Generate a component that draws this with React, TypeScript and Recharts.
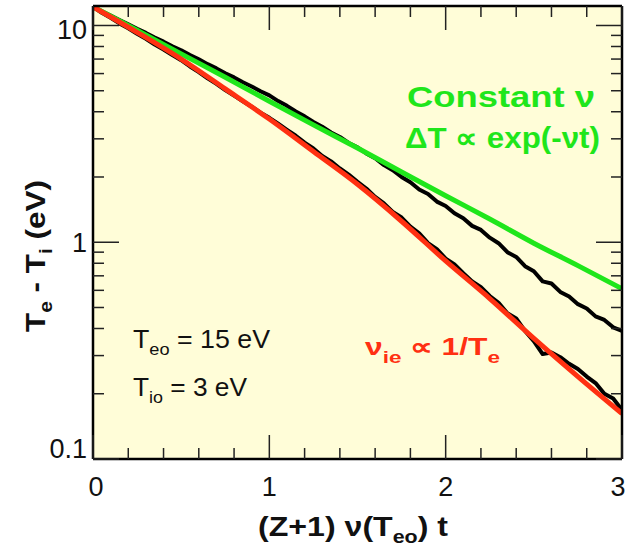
import { LineChart, Line, XAxis, YAxis, CartesianGrid } from "recharts";

// scaled time (Z+1) nu(Teo) t
const modelT = [0, 0.25, 0.5, 0.75, 1, 1.25, 1.5, 1.75, 2, 2.25, 2.5, 2.75, 3];
const constantNu = [12.2, 9.5, 7.4, 5.77, 4.47, 3.48, 2.72, 2.11, 1.64, 1.28, 0.99, 0.78, 0.61];
const nuInverseTe = [12.2, 9.3, 7.0, 5.1, 3.7, 2.62, 1.85, 1.25, 0.82, 0.55, 0.36, 0.24, 0.162];

// measured traces, sampled every 0.05
const sampleT = Array.from({ length: 61 }, (_, i) => +(i * 0.05).toFixed(2));
const measuredUpper = [
  12.2, 11.64, 11.11, 10.6, 10.13, 9.66, 9.24, 8.8, 8.42, 8.01, 7.68,
  7.3, 6.98, 6.63, 6.34, 6.02, 5.76, 5.47, 5.23, 4.97, 4.76,
  4.48, 4.26, 4.01, 3.81, 3.59, 3.41, 3.21, 3.06, 2.87, 2.74,
  2.57, 2.44, 2.27, 2.15, 2.0, 1.89, 1.75, 1.67, 1.54, 1.47,
  1.36, 1.29, 1.19, 1.14, 1.05, 0.99, 0.9, 0.855, 0.775, 0.735,
  0.66, 0.645, 0.59, 0.562, 0.518, 0.495, 0.455, 0.438, 0.405, 0.39,
];
const measuredLower = [
  12.2, 11.45, 10.85, 10.22, 9.7, 9.15, 8.68, 8.16, 7.74, 7.3, 6.92,
  6.47, 6.1, 5.7, 5.38, 5.04, 4.75, 4.47, 4.22, 3.96, 3.75,
  3.52, 3.3, 3.1, 2.88, 2.71, 2.5, 2.36, 2.19, 2.05, 1.9,
  1.77, 1.62, 1.51, 1.38, 1.3, 1.18, 1.1, 0.99, 0.93, 0.84,
  0.79, 0.72, 0.66, 0.62, 0.565, 0.525, 0.47, 0.445, 0.39, 0.35,
  0.305, 0.31, 0.295, 0.275, 0.26, 0.24, 0.224, 0.2, 0.19, 0.168,
];

const xTicks = [0, 0.2, 0.4, 0.6, 0.8, 1, 1.2, 1.4, 1.6, 1.8, 2, 2.2, 2.4, 2.6, 2.8, 3];
const yTicks = [
  0.1, 0.2, 0.3, 0.4, 0.5, 0.6, 0.7, 0.8, 0.9,
  1, 2, 3, 4, 5, 6, 7, 8, 9, 10,
];
const xLabels = [0, 1, 2, 3];
const yLabels = [0.1, 1, 10];

const toPoints = (xs: number[], ys: number[]) => xs.map((x, i) => ({ x, y: ys[i] }));

const FONT = '"Liberation Sans", Arial, Helvetica, sans-serif';
const GREEN = "#1fe61b";
const RED = "#ff3012";
const TICK = "#222";

function BottomTick({ x, y, payload }: any) {
  const v = payload.value;
  const major = xLabels.includes(v);
  const nudge = v === 0 ? 3 : v === 3 ? -4 : 0;
  return (
    <g>
      <line x1={x} x2={x} y1={y} y2={y - (major ? 24 : 11)} stroke={TICK} strokeWidth={1.5} />
      {major && (
        <text x={x + nudge} y={y + 37} textAnchor="middle" fontSize={27} fontFamily={FONT} fill="#111">
          {v}
        </text>
      )}
    </g>
  );
}

function TopTick({ x, y, payload }: any) {
  const major = xLabels.includes(payload.value);
  return <line x1={x} x2={x} y1={y} y2={y + (major ? 24 : 11)} stroke={TICK} strokeWidth={1.5} />;
}

function LeftTick({ x, y, payload }: any) {
  const v = payload.value;
  const major = yLabels.includes(v);
  const cy = Math.min(Math.max(y, 29), 448);
  return (
    <g>
      <line x1={x} x2={x + (major ? 26 : 11)} y1={y} y2={y} stroke={TICK} strokeWidth={1.5} />
      {major && (
        <text x={x - 6} y={cy + 10} textAnchor="end" fontSize={27} fontFamily={FONT} fill="#111">
          {v}
        </text>
      )}
    </g>
  );
}

function RightTick({ x, y, payload }: any) {
  const major = yLabels.includes(payload.value);
  return <line x1={x} x2={x - (major ? 26 : 11)} y1={y} y2={y} stroke={TICK} strokeWidth={1.5} />;
}

const frame = { stroke: "#000", strokeWidth: 2.5 };

export default function App() {
  return (
    <div style={{ position: "absolute", left: 0, top: 0, width: 630, height: 546, background: "#fff" }}>
      <LineChart width={630} height={546} margin={{ top: 0, right: 0, bottom: 0, left: 0 }}>
        <CartesianGrid horizontal={false} vertical={false} stroke="none" fill="#fffdd8" />
        <XAxis
          dataKey="x"
          type="number"
          domain={[0, 3]}
          ticks={xTicks}
          interval={0}
          height={87}
          tickSize={0}
          tickMargin={0}
          tickLine={false}
          axisLine={frame}
          tick={BottomTick}
          allowDataOverflow
        />
        <XAxis
          xAxisId="top"
          orientation="top"
          dataKey="x"
          type="number"
          domain={[0, 3]}
          ticks={xTicks}
          interval={0}
          height={6}
          tickSize={0}
          tickMargin={0}
          tickLine={false}
          axisLine={frame}
          tick={TopTick}
          allowDataOverflow
        />
        <YAxis
          dataKey="y"
          scale="log"
          type="number"
          domain={[0.1, 12.3]}
          ticks={yTicks}
          interval={0}
          width={93}
          tickSize={0}
          tickMargin={0}
          tickLine={false}
          axisLine={frame}
          tick={LeftTick}
          allowDataOverflow
        />
        <YAxis
          yAxisId="right"
          orientation="right"
          dataKey="y"
          scale="log"
          type="number"
          domain={[0.1, 12.3]}
          ticks={yTicks}
          interval={0}
          width={8}
          tickSize={0}
          tickMargin={0}
          tickLine={false}
          axisLine={frame}
          tick={RightTick}
          allowDataOverflow
        />
        <Line
          data={toPoints(sampleT, measuredUpper)}
          dataKey="y"
          type="linear"
          stroke="#000"
          strokeWidth={4}
          strokeLinejoin="round"
          dot={false}
          isAnimationActive={false}
        />
        <Line
          data={toPoints(sampleT, measuredLower)}
          dataKey="y"
          type="linear"
          stroke="#000"
          strokeWidth={4}
          strokeLinejoin="round"
          dot={false}
          isAnimationActive={false}
        />
        <Line
          data={toPoints(modelT, constantNu)}
          dataKey="y"
          type="monotone"
          stroke={GREEN}
          strokeWidth={5}
          dot={false}
          isAnimationActive={false}
        />
        <Line
          data={toPoints(modelT, nuInverseTe)}
          dataKey="y"
          type="monotone"
          stroke={RED}
          strokeWidth={5}
          dot={false}
          isAnimationActive={false}
        />
      </LineChart>
      <svg
        width={630}
        height={546}
        style={{ position: "absolute", left: 0, top: 0, pointerEvents: "none" }}
        fontFamily={FONT}
      >
        <text x={407} y={107} fontSize={30} fontWeight="bold" fill={GREEN} textLength={188} lengthAdjust="spacingAndGlyphs">
          Constant ν
        </text>
        <text x={405} y={148} fontSize={29} fontWeight="bold" fill={GREEN} textLength={195} lengthAdjust="spacingAndGlyphs">
          ΔT ∝ exp(-νt)
        </text>
        <text x={365} y={355} fontSize={24} fontWeight="bold" fill={RED} textLength={135} lengthAdjust="spacingAndGlyphs">
          ν<tspan fontSize={17} dy={8}>ie</tspan>
          <tspan dy={-8}> ∝ 1/T</tspan>
          <tspan fontSize={17} dy={8}>e</tspan>
        </text>
        <text x={133} y={348} fontSize={25} fill="#111" textLength={137} lengthAdjust="spacingAndGlyphs">
          T<tspan fontSize={17} dy={7}>eo</tspan>
          <tspan dy={-7}> = 15 eV</tspan>
        </text>
        <text x={133} y={396} fontSize={25} fill="#111" textLength={114} lengthAdjust="spacingAndGlyphs">
          T<tspan fontSize={17} dy={7}>io</tspan>
          <tspan dy={-7}> = 3 eV</tspan>
        </text>
        <text x={258} y={536} fontSize={27} fontWeight="bold" fill="#111" textLength={190} lengthAdjust="spacingAndGlyphs">
          (Z+1) ν(T<tspan fontSize={18} dy={7}>eo</tspan>
          <tspan dy={-7}>) t</tspan>
        </text>
        <text
          x={0}
          y={0}
          transform="translate(45 332) rotate(-90)"
          fontSize={27}
          fontWeight="bold"
          fill="#111"
          textLength={152}
          lengthAdjust="spacingAndGlyphs"
        >
          T<tspan fontSize={18} dy={7}>e</tspan>
          <tspan dy={-7}> - T</tspan>
          <tspan fontSize={18} dy={7}>i</tspan>
          <tspan dy={-7}> (eV)</tspan>
        </text>
      </svg>
    </div>
  );
}
